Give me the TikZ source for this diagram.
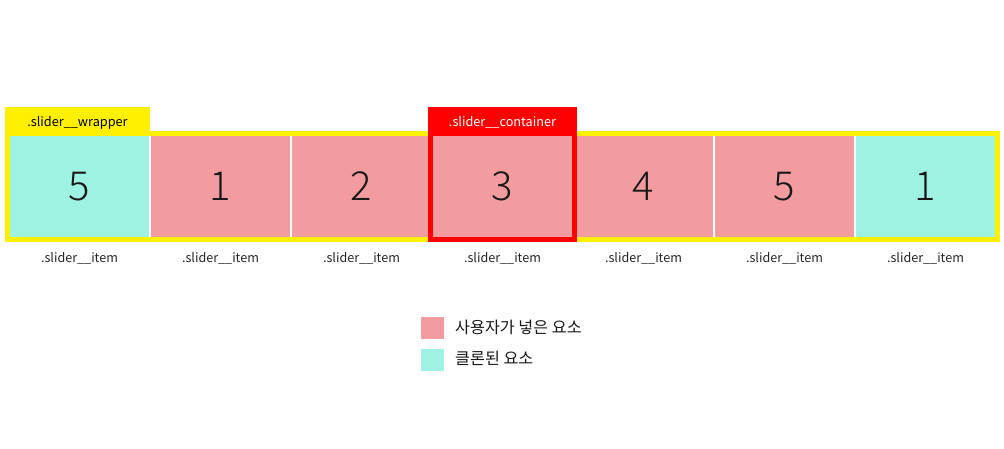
\documentclass[tikz,border=0pt]{standalone}
\usepackage{fontspec}
\setmainfont{Noto Sans CJK KR}
\IfFontExistsTF{Noto Sans CJK KR Light}{\newfontfamily\numfont{Noto Sans CJK KR Light}}{\newfontfamily\numfont{Noto Sans CJK KR}}
\definecolor{pinkc}{RGB}{242,156,159}
\definecolor{cyanc}{RGB}{157,242,225}
\definecolor{yel}{RGB}{255,240,0}
\definecolor{redc}{RGB}{255,0,0}
\tikzset{
  itembox/.style={rectangle, inner sep=0pt, minimum width=139pt, minimum height=101pt, font=\numfont\fontsize{40}{44}\selectfont, text=black!90},
  userbox/.style={itembox, fill=pinkc},
  clonebox/.style={itembox, fill=cyanc},
  itemlabel/.style={inner sep=0pt, font=\fontsize{12.6}{15}\selectfont, text=black!85},
  tagbox/.style={rectangle, inner sep=0pt, minimum height=25pt, text height=14.5pt, text depth=0pt, font=\fontsize{12.7}{15}\selectfont},
  legendbox/.style={rectangle, inner sep=0pt, minimum width=23pt, minimum height=22pt},
  legendtext/.style={anchor=west, inner sep=0pt, font=\fontsize{16.2}{19}\selectfont, text=black!90}
}
\begin{document}
\begin{tikzpicture}[x=1pt,y=-1pt]
\useasboundingbox (0,0) rectangle (1004,449);
\fill[white] (0,0) rectangle (1004,449);
% wrapper
\node[rectangle, fill=yel, inner sep=0pt, minimum width=995pt, minimum height=111pt] (wrap) at (502.5,186.5) {};
\node[rectangle, fill=white, inner sep=0pt, minimum width=985pt, minimum height=101pt] (inner) at (502.5,186.5) {};
\node[tagbox, fill=yel, minimum width=145pt] (wlab) at (77.5,119.5) {.slider\_\_wrapper};
% items
\foreach \i/\n/\s in {0/5/clonebox,1/1/userbox,2/2/userbox,3/3/userbox,4/4/userbox,5/5/userbox,6/1/clonebox}{
  \node[\s] (item\i) at ({79.5+141*\i},186.5) {\n};
  \node[itemlabel] (lab\i) at ({79.5+141*\i},258) {.slider\_\_item};
}
% container
\node[tagbox, fill=redc, text=white, minimum width=149pt] (clab) at (502.5,119.5) {.slider\_\_container};
\node[rectangle, draw=redc, line width=5pt, inner sep=0pt, minimum width=144pt, minimum height=106pt] (cont) at (502.5,186.5) {};
% legend
\node[legendbox, fill=pinkc] (lg1) at (432.5,328) {};
\node[legendtext] (lt1) at (455,327) {사용자가 넣은 요소};
\node[legendbox, fill=cyanc] (lg2) at (432.5,359.5) {};
\node[legendtext] (lt2) at (455,358.5) {클론된 요소};
\end{tikzpicture}
\end{document}
